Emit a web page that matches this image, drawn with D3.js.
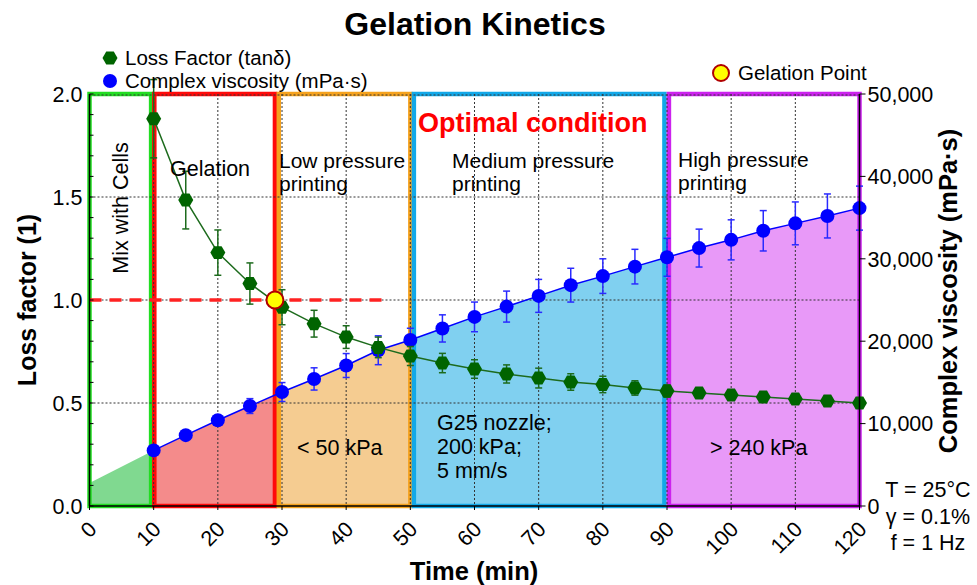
<!DOCTYPE html>
<html>
<head>
<meta charset="utf-8">
<script src="https://cdn.jsdelivr.net/npm/d3@7"></script>
<style>
  body { margin: 0; background: #fff; }
  text { font-family: "Liberation Sans", Arial, sans-serif; fill: #000; }
</style>
</head>
<body>
<div id="chart"></div>
<script>
// ---- data ----
const times      = [10, 15, 20, 25, 30, 35, 40, 45, 50, 55, 60, 65, 70, 75, 80, 85, 90, 95, 100, 105, 110, 115, 120];
const lossFactor = [1.88, 1.485, 1.23, 1.08, 0.965, 0.885, 0.82, 0.77, 0.728, 0.694, 0.665, 0.641, 0.621, 0.602, 0.59, 0.573, 0.558, 0.549, 0.539, 0.529, 0.519, 0.51, 0.5];
const lossErr    = [0.19, 0.14, 0.11, 0.10, 0.085, 0.065, 0.055, 0.05, 0.046, 0.047, 0.045, 0.044, 0.048, 0.04, 0.04, 0.035, 0.03, 0.025, 0.02, 0.02, 0.02, 0.02, 0.02];
const viscosity  = [6750, 8600, 10400, 12130, 13830, 15420, 17050, 18900, 20150, 21550, 22950, 24200, 25500, 26800, 27900, 29050, 30180, 31300, 32300, 33400, 34300, 35200, 36150];
const viscErr    = [250, 350, 600, 900, 1150, 1350, 1450, 1750, 1420, 1650, 1800, 1880, 2000, 2050, 2100, 2100, 2300, 2300, 2430, 2450, 2600, 2670, 2670];
const fillStart  = [0, 2800];           // where the shaded area begins at t = 0
const gelation   = [28.9, 1.0];         // gelation point (time, loss factor)
const lossThreshold = 1.0;
const thresholdEnd  = 46;

const regionStart  = [0, 10.1, 29.5, 50.55, 90.3];
const regionEnd    = [9.6, 28.9, 50, 89.6, 120];
const regionStroke = ["#22dd22", "#ff0a0a", "#f5a21e", "#12a8e8", "#cc22ee"];
const regionFill   = ["#80d990", "#f48b8b", "#f5cc91", "#80d0f0", "#e899f8"];

const xTicks    = [0, 10, 20, 30, 40, 50, 60, 70, 80, 90, 100, 110, 120];
const lossTicks = [0, 0.5, 1.0, 1.5, 2.0];
const lossMinor = [0.1, 0.2, 0.3, 0.4, 0.6, 0.7, 0.8, 0.9, 1.1, 1.2, 1.3, 1.4, 1.6, 1.7, 1.8, 1.9];
const viscTicks = [0, 10000, 20000, 30000, 40000, 50000];

// ---- layout ----
const W = 977, H = 585;
const M = { left: 89.5, right: 117.5, top: 94, bottom: 79 };
const GREEN = "#006400", GREEN_LINE = "#1d6b1d", BLUE = "#0000ff";

const svg = d3.select("#chart").append("svg")
  .attr("width", W).attr("height", H);

const x = d3.scaleLinear().domain([0, 120]).range([M.left, W - M.right]);
const yL = d3.scaleLinear().domain([0, 2]).range([H - M.bottom, M.top]);
const yR = d3.scaleLinear().domain([0, 50000]).range([H - M.bottom, M.top]);

const lossPts = times.map((t, i) => ({ t, v: lossFactor[i], e: lossErr[i] }));
const viscPts = times.map((t, i) => ({ t, v: viscosity[i], e: viscErr[i] }));
const areaPts = [{ t: fillStart[0], v: fillStart[1] }].concat(viscPts);

// shaded area under viscosity, coloured by region
const defs = svg.append("defs");
const area = d3.area().x(d => x(d.t)).y0(yR(0)).y1(d => yR(d.v));
regionStart.forEach((s, i) => {
  defs.append("clipPath").attr("id", "clip" + i).append("rect")
    .attr("x", x(s)).attr("width", x(regionEnd[i]) - x(s))
    .attr("y", M.top).attr("height", H - M.bottom - M.top);
  svg.append("path").datum(areaPts)
    .attr("d", area).attr("fill", regionFill[i])
    .attr("clip-path", `url(#clip${i})`);
});

// region frames
svg.selectAll(".region").data(regionStart).enter().append("rect")
  .attr("x", d => x(d))
  .attr("width", (d, i) => x(regionEnd[i]) - x(d))
  .attr("y", M.top).attr("height", H - M.bottom - M.top)
  .attr("fill", "none")
  .attr("stroke", (d, i) => regionStroke[i])
  .attr("stroke-width", 4.5);

// grid
const grid = svg.append("g").attr("stroke", "#333").attr("stroke-width", 1).attr("stroke-dasharray", "2,2");
grid.selectAll("line.gx").data(xTicks.slice(1, -1)).enter().append("line")
  .attr("x1", d => x(d)).attr("x2", d => x(d)).attr("y1", M.top).attr("y2", H - M.bottom);
grid.selectAll("line.gy").data(lossTicks.slice(1, -1)).enter().append("line")
  .attr("y1", d => yL(d)).attr("y2", d => yL(d)).attr("x1", M.left).attr("x2", W - M.right);
grid.append("line").attr("x1", M.left).attr("x2", W - M.right).attr("y1", M.top + 1).attr("y2", M.top + 1);

// threshold line tan(delta) = 1
svg.append("line")
  .attr("x1", x(0)).attr("x2", x(thresholdEnd))
  .attr("y1", yL(lossThreshold)).attr("y2", yL(lossThreshold))
  .attr("stroke", "#ff2222").attr("stroke-width", 3.5).attr("stroke-dasharray", "12,8");

// error bars helper
function errorBars(pts, scale, color) {
  const g = svg.append("g").attr("stroke", color).attr("stroke-width", 1.5);
  pts.forEach(d => {
    const top = scale(d.v + d.e), bot = scale(d.v - d.e), cx = x(d.t);
    g.append("line").attr("x1", cx).attr("x2", cx).attr("y1", top).attr("y2", bot);
    g.append("line").attr("x1", cx - 3.5).attr("x2", cx + 3.5).attr("y1", top).attr("y2", top);
    g.append("line").attr("x1", cx - 3.5).attr("x2", cx + 3.5).attr("y1", bot).attr("y2", bot);
  });
}

// viscosity series
svg.append("path").datum(viscPts)
  .attr("d", d3.line().x(d => x(d.t)).y(d => yR(d.v)))
  .attr("fill", "none").attr("stroke", BLUE).attr("stroke-width", 1.5);
errorBars(viscPts, yR, "#2a2aff");
svg.selectAll(".visc").data(viscPts).enter().append("circle")
  .attr("cx", d => x(d.t)).attr("cy", d => yR(d.v)).attr("r", 7).attr("fill", BLUE);

// loss factor series
function hexagon(r) {
  return d3.line()(d3.range(6).map(k => [r * Math.cos(k * Math.PI / 3), r * Math.sin(k * Math.PI / 3)])) + "Z";
}
svg.append("path").datum(lossPts)
  .attr("d", d3.line().x(d => x(d.t)).y(d => yL(d.v)))
  .attr("fill", "none").attr("stroke", GREEN_LINE).attr("stroke-width", 1.5);
errorBars(lossPts, yL, GREEN_LINE);
svg.selectAll(".loss").data(lossPts).enter().append("path")
  .attr("d", hexagon(7.5))
  .attr("transform", d => `translate(${x(d.t)},${yL(d.v)})`)
  .attr("fill", GREEN);

// gelation point
svg.append("circle")
  .attr("cx", x(gelation[0])).attr("cy", yL(gelation[1])).attr("r", 8.5)
  .attr("fill", "#ffff00").attr("stroke", "#b00000").attr("stroke-width", 2);

// ---- axes ----
const bottom = H - M.bottom;
svg.append("line").attr("x1", M.left).attr("x2", W - M.right).attr("y1", bottom).attr("y2", bottom)
  .attr("stroke", "#000").attr("stroke-width", 1.5);
svg.append("line").attr("x1", M.left).attr("x2", M.left).attr("y1", M.top).attr("y2", bottom)
  .attr("stroke", "#000").attr("stroke-width", 1.5);
svg.append("line").attr("x1", W - M.right).attr("x2", W - M.right).attr("y1", M.top).attr("y2", bottom)
  .attr("stroke", "#000").attr("stroke-width", 1.5);

// left ticks (inside) and labels
svg.selectAll(".lt").data(lossTicks.concat(lossMinor)).enter().append("line")
  .attr("x1", M.left).attr("x2", M.left + 4).attr("y1", d => yL(d)).attr("y2", d => yL(d))
  .attr("stroke", "#000").attr("stroke-width", 1);
svg.selectAll(".ll").data(lossTicks).enter().append("text")
  .attr("x", M.left - 7).attr("y", d => yL(d)).attr("dy", "0.36em")
  .attr("text-anchor", "end").style("font-size", "21.5px")
  .text(d3.format(".1f"));

// right ticks and labels
svg.selectAll(".rt").data(viscTicks).enter().append("line")
  .attr("x1", W - M.right).attr("x2", W - M.right + 6).attr("y1", d => yR(d)).attr("y2", d => yR(d))
  .attr("stroke", "#000").attr("stroke-width", 1);
svg.selectAll(".rl").data(viscTicks).enter().append("text")
  .attr("x", W - M.right + 8).attr("y", d => yR(d)).attr("dy", "0.36em")
  .style("font-size", "21.5px")
  .text(d3.format(","));

// x ticks and rotated labels
svg.selectAll(".xt").data(xTicks).enter().append("line")
  .attr("x1", d => x(d)).attr("x2", d => x(d)).attr("y1", bottom).attr("y2", bottom + 4)
  .attr("stroke", "#000").attr("stroke-width", 1);
svg.selectAll(".xl").data(xTicks).enter().append("text")
  .attr("transform", d => `translate(${x(d) + 3},${bottom + 19}) rotate(-45)`)
  .attr("text-anchor", "end").attr("dy", "0.36em")
  .style("font-size", "21.5px")
  .text(d => d);

// axis titles
svg.append("text").attr("transform", `translate(36,${(M.top + bottom) / 2}) rotate(-90)`)
  .attr("text-anchor", "middle").style("font-size", "25px").style("font-weight", "bold")
  .text("Loss factor (1)");
svg.append("text").attr("transform", `translate(957,291) rotate(-90)`)
  .attr("text-anchor", "middle").style("font-size", "25.5px").style("font-weight", "bold")
  .text("Complex viscosity (mPa·s)");
svg.append("text").attr("x", 474).attr("y", 580)
  .attr("text-anchor", "middle").style("font-size", "25.5px").style("font-weight", "bold")
  .text("Time (min)");

// title
svg.append("text").attr("x", 475).attr("y", 35)
  .attr("text-anchor", "middle").style("font-size", "32px").style("font-weight", "bold")
  .text("Gelation Kinetics");

// legend
svg.append("path").attr("d", hexagon(7.5)).attr("transform", "translate(110,58)").attr("fill", GREEN);
svg.append("text").attr("x", 125).attr("y", 65).style("font-size", "20.5px").text("Loss Factor (tanδ)");
svg.append("circle").attr("cx", 110).attr("cy", 81).attr("r", 7).attr("fill", BLUE);
svg.append("text").attr("x", 125).attr("y", 88).style("font-size", "20.5px").text("Complex viscosity (mPa·s)");
svg.append("circle").attr("cx", 721).attr("cy", 73).attr("r", 8)
  .attr("fill", "#ffff00").attr("stroke", "#b00000").attr("stroke-width", 2);
svg.append("text").attr("x", 738).attr("y", 80).style("font-size", "20.5px").text("Gelation Point");

// region annotations
function label(lines, px, py, size, lh, opts = {}) {
  const t = svg.append("text").attr("x", px).attr("y", py).style("font-size", size + "px");
  if (opts.bold) t.style("font-weight", "bold");
  if (opts.color) t.style("fill", opts.color);
  lines.forEach((s, i) => t.append("tspan").attr("x", px).attr("dy", i ? lh : 0).text(s));
  return t;
}
svg.append("text").attr("transform", "translate(128,208) rotate(-90)")
  .attr("text-anchor", "middle").style("font-size", "21.5px").text("Mix with Cells");
label(["Gelation"], 170, 176, 21.5, 0);
label(["Low pressure", "printing"], 279, 168, 21, 23);
label(["Optimal condition"], 418, 132, 27, 0, { bold: true, color: "#ff0000" });
label(["Medium pressure", "printing"], 452, 168, 21, 23);
label(["High pressure", "printing"], 678, 167, 21, 23);
label(["< 50 kPa"], 297, 455, 21.5, 0);
label(["G25 nozzle;", "200 kPa;", "5 mm/s"], 437, 430, 21.5, 24);
label(["> 240 kPa"], 710, 455, 21.5, 0);

// test conditions
const cond = svg.append("text").attr("text-anchor", "middle").style("font-size", "21.5px");
["T = 25°C", "γ = 0.1%", "f = 1 Hz"].forEach((s, i) =>
  cond.append("tspan").attr("x", 928).attr("y", 497 + i * 26.5).text(s));
</script>
</body>
</html>
